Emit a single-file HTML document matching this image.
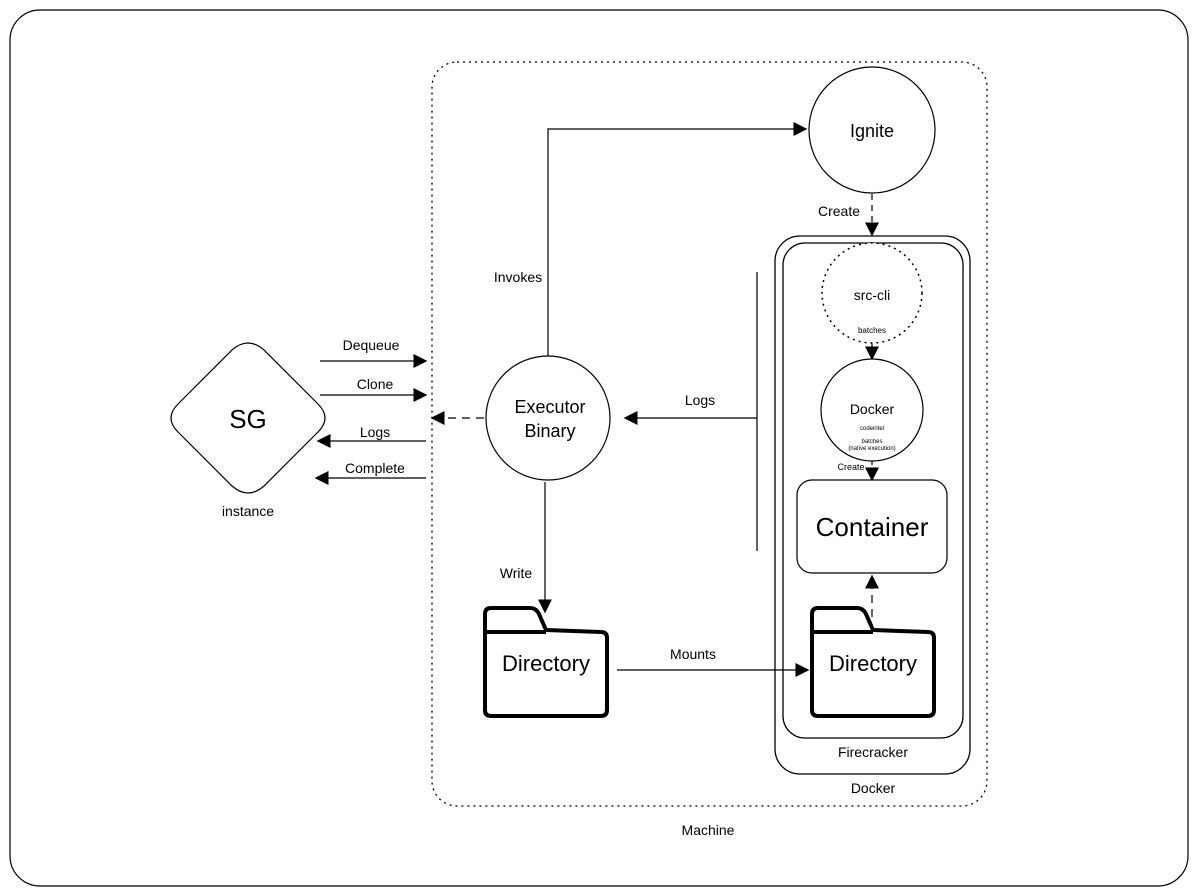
<!DOCTYPE html>
<html><head><style>html,body{margin:0;padding:0;background:#fff}svg{display:block}text{font-family:"Liberation Sans",Arial,sans-serif;fill:#000}</style></head>
<body>
<svg width="1198" height="896" viewBox="0 0 1198 896" xmlns="http://www.w3.org/2000/svg">
<defs>
<marker id="a" viewBox="0 0 10 10" refX="9" refY="5" markerWidth="7" markerHeight="7" orient="auto-start-reverse" markerUnits="userSpaceOnUse"><path d="M0,0 L10,5 L0,10z" fill="#000"/></marker>
<marker id="b" viewBox="0 0 10 10" refX="9" refY="5" markerWidth="14" markerHeight="14" orient="auto" markerUnits="userSpaceOnUse"><path d="M0,0 L10,5 L0,10z" fill="#000"/></marker>
</defs>
<rect x="10" y="10" width="1178" height="876" rx="30" fill="#fff" stroke="#000" stroke-width="1.2"/>
<rect x="432" y="62" width="555" height="744" rx="25" fill="none" stroke="#000" stroke-width="1.3" stroke-dasharray="2,4"/>
<text x="708" y="835" font-size="14" text-anchor="middle">Machine</text>

<!-- SG -->
<path d="M232,350 Q248,336 264,350 L318,404 Q332,418 318,432 L264,486 Q248,500 232,486 L178,432 Q164,418 178,404 Z" fill="#fff" stroke="#000" stroke-width="1.2"/>
<text x="248" y="428" font-size="26" text-anchor="middle">SG</text>
<text x="248" y="516" font-size="14" text-anchor="middle">instance</text>

<g stroke="#000" stroke-width="1.2" fill="none">
<line x1="320" y1="361" x2="426" y2="361" marker-end="url(#b)"/>
<line x1="320" y1="395" x2="426" y2="395" marker-end="url(#b)"/>
<line x1="426" y1="441" x2="318" y2="441" marker-end="url(#b)"/>
<line x1="426" y1="478" x2="316" y2="478" marker-end="url(#b)"/>
<line x1="484" y1="418" x2="432" y2="418" stroke-dasharray="8,6" marker-end="url(#b)"/>
<polyline points="548,356 548,129 806,129" marker-end="url(#b)"/>
<line x1="872" y1="194" x2="872" y2="235" stroke-dasharray="6,5" marker-end="url(#b)"/>
<line x1="757" y1="272" x2="757" y2="551"/>
<line x1="757" y1="418" x2="625" y2="418" marker-end="url(#b)"/>
<line x1="872" y1="343" x2="872" y2="359" marker-end="url(#b)"/>
<line x1="872" y1="461" x2="872" y2="480" stroke-dasharray="4,3" marker-end="url(#b)"/>
<line x1="545" y1="482" x2="545" y2="612" marker-end="url(#b)"/>
<line x1="617" y1="670" x2="808" y2="670" marker-end="url(#b)"/>
<line x1="872" y1="617" x2="872" y2="576" stroke-dasharray="8,6" marker-end="url(#b)"/>
</g>
<text x="371" y="350" font-size="14" text-anchor="middle">Dequeue</text>
<text x="375" y="389" font-size="14" text-anchor="middle">Clone</text>
<text x="375" y="437" font-size="14" text-anchor="middle">Logs</text>
<text x="375" y="473" font-size="14" text-anchor="middle">Complete</text>
<text x="518" y="282" font-size="14" text-anchor="middle">Invokes</text>
<text x="839" y="216" font-size="14" text-anchor="middle">Create</text>
<text x="700" y="405" font-size="14" text-anchor="middle">Logs</text>
<text x="516" y="578" font-size="14" text-anchor="middle">Write</text>
<text x="693" y="659" font-size="14" text-anchor="middle">Mounts</text>

<circle cx="548" cy="418" r="62" fill="#fff" stroke="#000" stroke-width="1.2"/>
<text x="550" y="413" font-size="18" text-anchor="middle">Executor</text>
<text x="550" y="437" font-size="18" text-anchor="middle">Binary</text>
<circle cx="872" cy="130" r="63" fill="#fff" stroke="#000" stroke-width="1.2"/>
<text x="872" y="137" font-size="18" text-anchor="middle">Ignite</text>

<rect x="775" y="236" width="195" height="538" rx="25" fill="none" stroke="#000" stroke-width="1.3"/>
<rect x="783" y="243" width="180" height="495" rx="22" fill="none" stroke="#000" stroke-width="1.3"/>
<text x="873" y="757" font-size="14" text-anchor="middle">Firecracker</text>
<text x="873" y="793" font-size="14" text-anchor="middle">Docker</text>

<circle cx="872" cy="293" r="50" fill="#fff" stroke="#000" stroke-width="1.5" stroke-dasharray="2,4"/>
<text x="872" y="300" font-size="14" text-anchor="middle">src-cli</text>
<text x="872" y="333" font-size="8" text-anchor="middle">batches</text>
<circle cx="872" cy="410" r="51" fill="#fff" stroke="#000" stroke-width="1.2"/>
<text x="872" y="414" font-size="14" text-anchor="middle">Docker</text>
<text x="872" y="430" font-size="6" text-anchor="middle">codeintel</text>
<text x="872" y="443" font-size="6" text-anchor="middle">batches</text>
<text x="872" y="450" font-size="6" text-anchor="middle">(native execution)</text>
<text x="851" y="470" font-size="9" text-anchor="middle">Create</text>
<rect x="797" y="480" width="150" height="93" rx="15" fill="#fff" stroke="#000" stroke-width="1.2"/>
<text x="872" y="536" font-size="26" text-anchor="middle">Container</text>

<g fill="#fff" stroke="#000" stroke-width="4" stroke-linejoin="round">
<path d="M485,632 L485,614 Q485,608 491,608 L530,608 Q536,608 539,614 L546,630 L601,632 Q607,632 607,638 L607,710 Q607,716 601,716 L491,716 Q485,716 485,710 Z"/>
<line x1="485" y1="632" x2="546" y2="632"/>
<path d="M812,632 L812,614 Q812,608 818,608 L857,608 Q863,608 866,614 L873,630 L928,632 Q934,632 934,638 L934,710 Q934,716 928,716 L818,716 Q812,716 812,710 Z"/>
<line x1="812" y1="632" x2="873" y2="632"/>
</g>
<text x="546" y="671" font-size="22" text-anchor="middle">Directory</text>
<text x="873" y="671" font-size="22" text-anchor="middle">Directory</text>
</svg>
</body></html>
